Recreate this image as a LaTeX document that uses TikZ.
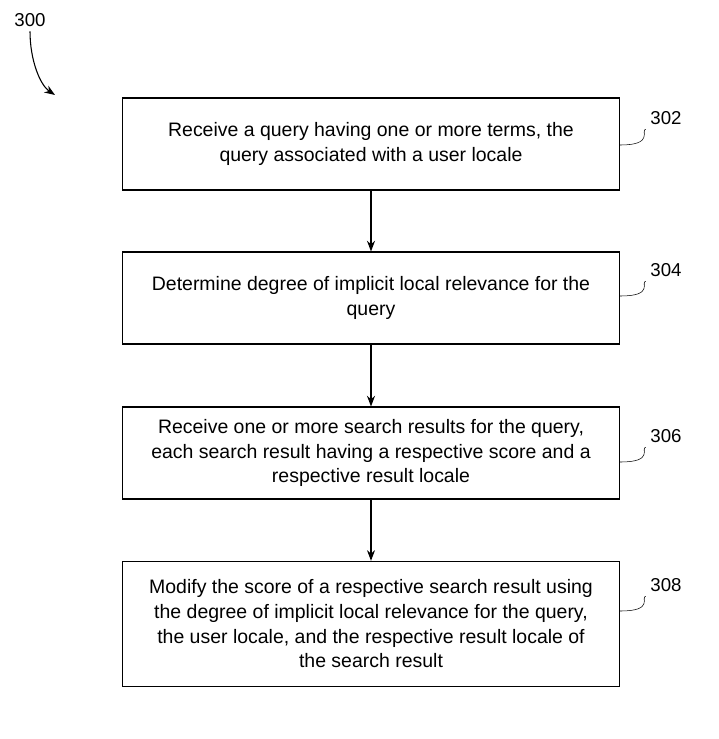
\documentclass[tikz,border=0pt]{standalone}
\usepackage{fontspec}
\setmainfont{Liberation Sans}
\usetikzlibrary{positioning,arrows.meta}
\tikzset{
	box/.style={draw, thick, minimum width=373pt, minimum height=69pt, align=center, font=\fontsize{14.6}{18.5}\selectfont},
	flow/.style={thick, -{Stealth[length=8pt,width=6pt]}},
	tag/.style={font=\fontsize{14}{16}\selectfont}
}
\begin{document}
\begin{tikzpicture}[x=0.75pt,y=-0.75pt]
	\useasboundingbox (0,0) rectangle (718,739);
	\node[box] (S302) at (371,144) {Receive a query having one or more terms, the\\query associated with a user locale};
	\node[box] (S304) at (371,298) {Determine degree of implicit local relevance for the\\query};
	\node[box] (S306) at (371,453) {Receive one or more search results for the query,\\each search result having a respective score and a\\respective result locale};
	\node[box, minimum height=94pt] (S308) at (371,624) {Modify the score of a respective search result using\\the degree of implicit local relevance for the query,\\the user locale, and the respective result locale of\\the search result};

	\draw[flow] (S302) -- (S304);
	\draw[flow] (S304) -- (S306);
	\draw[flow] (S306) -- (S308);

	% reference numerals
	\node[tag] (T300) at (30,20) {300};
	\node[tag] (T302) at (666,118) {302};
	\node[tag] (T304) at (666,270) {304};
	\node[tag] (T306) at (666,436) {306};
	\node[tag] (T308) at (666,585) {308};
	\coordinate (A300) at (55,95);
	\draw[flow] (T300.south) .. controls (30,60) and (40,85) .. (A300);
	\draw (S302.east |- 0,145) .. controls (655,145) and (640,130) .. (T302.south west);
	\draw (S304.east |- 0,296) .. controls (655,296) and (640,282) .. (T304.south west);
	\draw (S306.east |- 0,462) .. controls (655,462) and (640,448) .. (T306.south west);
	\draw (S308.east |- 0,611) .. controls (655,611) and (640,597) .. (T308.south west);
\end{tikzpicture}
\end{document}
